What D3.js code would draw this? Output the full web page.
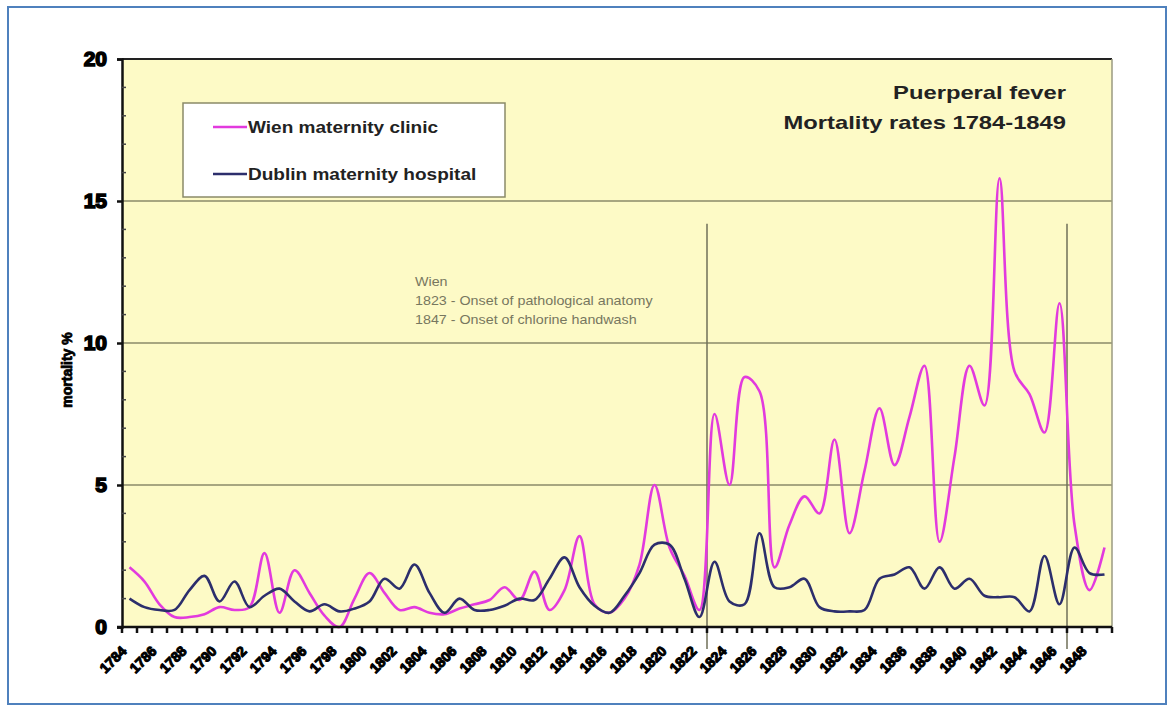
<!DOCTYPE html>
<html>
<head>
<meta charset="utf-8">
<script src="https://cdn.jsdelivr.net/npm/d3@7"></script>
<style>
body { margin: 0; background: #fff; }
text { font-family: "Liberation Sans", Arial, sans-serif; }
</style>
</head>
<body>
<div id="chart"></div>
<script>
// data, one value per year
var years = d3.range(1784, 1850);
var wien = [2.1, 1.6, 0.8, 0.35, 0.35, 0.45, 0.7, 0.6, 0.7, 2.6,
            0.5, 2.0, 1.2, 0.4, 0.0, 1.0, 1.9, 1.2, 0.6, 0.7,
            0.5, 0.45, 0.65, 0.8, 0.95, 1.4, 0.95, 1.95, 0.6, 1.3,
            3.2, 0.8, 0.5, 1.0, 2.2, 5.0, 2.8, 1.8, 0.6, 7.5,
            5.0, 8.8, 8.3, 2.1, 3.6, 4.6, 4.0, 6.6, 3.3, 5.5,
            7.7, 5.7, 7.4, 9.2, 3.0, 6.0, 9.2, 7.8, 15.8, 9.0,
            8.2, 6.85, 11.4, 3.6, 1.3, 2.8];
var dublin = [1.0, 0.7, 0.6, 0.6, 1.3, 1.8, 0.9, 1.6, 0.7, 1.1,
              1.35, 0.9, 0.55, 0.8, 0.55, 0.65, 0.9, 1.7, 1.35, 2.2,
              1.2, 0.5, 1.0, 0.6, 0.6, 0.75, 1.0, 0.95, 1.7, 2.45,
              1.4, 0.75, 0.5, 1.1, 1.9, 2.9, 2.9, 1.7, 0.35, 2.3,
              0.9, 0.8, 3.3, 1.4, 1.4, 1.7, 0.7, 0.55, 0.55, 0.6,
              1.7, 1.85, 2.1, 1.35, 2.1, 1.35, 1.7, 1.1, 1.05, 1.05,
              0.55, 2.5, 0.8, 2.8, 1.9, 1.85];
var yTicks = [0, 5, 10, 15, 20];
var labelYears = years.filter(function(d) { return d % 2 == 0; });
var markerYears = [1823, 1847];
var noteLines = ["Wien", "1823 - Onset of pathological anatomy", "1847 - Onset of chlorine handwash"];
var titleLines = ["Puerperal fever", "Mortality rates 1784-1849"];
var seriesNames = ["Wien maternity clinic", "Dublin maternity hospital"];
var seriesColors = ["#e23ade", "#2c2e6c"];

var W = 1174, H = 709;
var pLeft = 122, pRight = 1112, pTop = 59, pBottom = 627;

var svg = d3.select("#chart").append("svg")
    .attr("width", W)
    .attr("height", H);

// outer frame
svg.append("rect")
    .attr("x", 8).attr("y", 7)
    .attr("width", 1158).attr("height", 697)
    .attr("fill", "#fff")
    .attr("stroke", "#4f81bd")
    .attr("stroke-width", 2);

var x = d3.scaleBand().domain(years).range([pLeft, pRight]);
var y = d3.scaleLinear().domain([0, 20]).range([pBottom, pTop]);
var cx = function(d) { return x(d) + x.bandwidth() / 2; };

// plot area
svg.append("rect")
    .attr("x", pLeft).attr("y", pTop)
    .attr("width", pRight - pLeft).attr("height", pBottom - pTop)
    .attr("fill", "#fdfac6");

// grid lines
svg.selectAll(".grid")
    .data([5, 10, 15])
    .enter()
    .append("line")
    .attr("x1", pLeft).attr("x2", pRight)
    .attr("y1", function(d) { return y(d); })
    .attr("y2", function(d) { return y(d); })
    .attr("stroke", "#8a8a68")
    .attr("stroke-width", 1.5);

svg.append("line")
    .attr("x1", pLeft).attr("x2", pRight)
    .attr("y1", y(20)).attr("y2", y(20))
    .attr("stroke", "#222").attr("stroke-width", 2);
svg.append("line")
    .attr("x1", pRight).attr("x2", pRight)
    .attr("y1", y(20)).attr("y2", y(0))
    .attr("stroke", "#9a9a80").attr("stroke-width", 1.5);

// note text (the picture is a bit stretched sideways, hence the scale)
svg.selectAll(".note")
    .data(noteLines)
    .enter()
    .append("text")
    .attr("transform", function(d, i) { return "translate(415," + (286 + i * 19) + ") scale(1.1,1)"; })
    .attr("font-size", "13px")
    .attr("fill", "#77775f")
    .text(function(d) { return d; });

// marker lines for 1823 and 1847
svg.selectAll(".marker")
    .data(markerYears)
    .enter()
    .append("line")
    .attr("x1", function(d) { return x(d); })
    .attr("x2", function(d) { return x(d); })
    .attr("y1", y(14.2))
    .attr("y2", y(0) + 22)
    .attr("stroke", "#6f6f58")
    .attr("stroke-width", 1.5);

// series
var line = d3.line()
    .x(function(d, i) { return cx(years[i]); })
    .y(function(d) { return y(d); })
    .curve(d3.curveCatmullRom.alpha(0.5));

[wien, dublin].forEach(function(vals, k) {
    svg.append("path")
        .datum(vals)
        .attr("d", line)
        .attr("fill", "none")
        .attr("stroke", seriesColors[k])
        .attr("stroke-width", 2.6)
        .attr("stroke-linejoin", "round");
});

// y axis
var yAxis = svg.append("g")
    .attr("transform", "translate(" + pLeft + ",0)")
    .call(d3.axisLeft(y).tickValues(yTicks).tickSize(5).tickFormat(""));
yAxis.select(".domain").attr("stroke", "#111").attr("stroke-width", 2.5);
yAxis.selectAll(".tick line").attr("stroke", "#111").attr("stroke-width", 2.5);

svg.selectAll(".minor")
    .data(d3.range(1, 20).filter(function(d) { return d % 5 != 0; }))
    .enter()
    .append("line")
    .attr("x1", pLeft).attr("x2", pLeft + 4)
    .attr("y1", function(d) { return y(d); })
    .attr("y2", function(d) { return y(d); })
    .attr("stroke", "#444")
    .attr("stroke-width", 1.5);

svg.selectAll(".ylab")
    .data(yTicks)
    .enter()
    .append("text")
    .attr("x", 107)
    .attr("y", function(d) { return y(d) + 7; })
    .attr("text-anchor", "end")
    .attr("font-size", "21px")
    .attr("font-weight", "bold")
    .attr("fill", "#000")
    .attr("stroke", "#000")
    .attr("stroke-width", 1.6)
    .text(function(d) { return d; });

svg.append("text")
    .attr("transform", "translate(72,370) rotate(-90)")
    .attr("text-anchor", "middle")
    .attr("font-size", "14px")
    .attr("font-weight", "bold")
    .attr("fill", "#000")
    .attr("stroke", "#000")
    .attr("stroke-width", 0.8)
    .text("mortality %");

// x axis
svg.append("line")
    .attr("x1", pLeft - 5).attr("x2", pRight)
    .attr("y1", y(0)).attr("y2", y(0))
    .attr("stroke", "#111").attr("stroke-width", 2.5);

svg.selectAll(".xtick")
    .data(years.concat([null]))
    .enter()
    .append("line")
    .attr("x1", function(d) { return d == null ? pRight : x(d); })
    .attr("x2", function(d) { return d == null ? pRight : x(d); })
    .attr("y1", y(0))
    .attr("y2", y(0) + 6)
    .attr("stroke", "#111")
    .attr("stroke-width", 2.5);

svg.selectAll(".xlab")
    .data(labelYears)
    .enter()
    .append("text")
    .attr("transform", function(d) {
        return "translate(" + (cx(d) - 2) + ",652) rotate(-45)";
    })
    .attr("text-anchor", "end")
    .attr("font-size", "14px")
    .attr("font-weight", "bold")
    .attr("fill", "#000")
    .attr("stroke", "#000")
    .attr("stroke-width", 1.1)
    .text(function(d) { return d; });

// title
svg.selectAll(".title")
    .data(titleLines)
    .enter()
    .append("text")
    .attr("transform", function(d, i) { return "translate(1066," + (99 + i * 30) + ") scale(1.25,1)"; })
    .attr("text-anchor", "end")
    .attr("font-size", "19px")
    .attr("font-weight", "bold")
    .attr("fill", "#222")
    .text(function(d) { return d; });

// legend
svg.append("rect")
    .attr("x", 183).attr("y", 103)
    .attr("width", 322).attr("height", 94)
    .attr("fill", "#fff")
    .attr("stroke", "#8a8a68")
    .attr("stroke-width", 1.5);

var leg = svg.selectAll(".leg")
    .data(seriesNames)
    .enter()
    .append("g")
    .attr("transform", function(d, i) { return "translate(213," + (127 + i * 47) + ")"; });
leg.append("line")
    .attr("x1", 0).attr("x2", 34)
    .attr("stroke", function(d, i) { return seriesColors[i]; })
    .attr("stroke-width", 2.6);
leg.append("text")
    .attr("transform", "translate(35,6) scale(1.12,1)")
    .attr("font-size", "17px")
    .attr("font-weight", "bold")
    .attr("fill", "#222")
    .text(function(d) { return d; });
</script>
</body>
</html>
